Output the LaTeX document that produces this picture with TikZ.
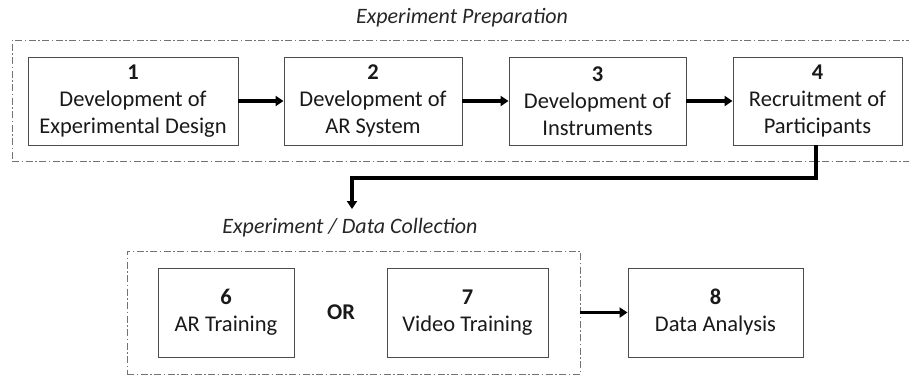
\documentclass[tikz,border=0pt]{standalone}
\usepackage{fontspec}
\setmainfont{Carlito}
\usetikzlibrary{arrows.meta}
\begin{document}
\begin{tikzpicture}[x=1pt,y=-1pt,
  stepbox/.style={draw=black!70, line width=0.9pt, fill=white, align=center, inner sep=0pt,
    font=\fontsize{22.5}{27}\selectfont, text=black!90},
  frame/.style={draw=black!55, line width=0.9pt, dash pattern=on 7pt off 2.5pt on 1.5pt off 2.5pt, inner sep=0pt},
  flow/.style={line width=3.2pt, -{Triangle[length=8pt,width=10pt]}},
  caption/.style={font=\fontsize{22}{25}\selectfont\itshape, text=black!85, inner sep=0pt}]
\useasboundingbox (0,0) rectangle (909,376);
% frames
\node[frame, minimum width=903pt, minimum height=121pt] (prep) at (463.5,100.5) {};
\node[frame, minimum width=453pt, minimum height=123pt] (coll) at (353.5,312.5) {};
% captions
\node[caption] (prepl) at (462,18) {Experiment Preparation};
\node[caption] (colll) at (350,228) {Experiment / Data Collection};
% boxes
\node[stepbox, minimum width=210pt, minimum height=88pt] (b1) at (133,101) {\textbf{1}\\Development of\\Experimental Design};
\node[stepbox, minimum width=178pt, minimum height=88pt] (b2) at (373,101) {\textbf{2}\\Development of\\AR System};
\node[stepbox, minimum width=177pt, minimum height=88pt] (b3) at (597.5,101) {\textbf{3}\\Development of\\Instruments};
\node[stepbox, minimum width=169pt, minimum height=88pt] (b4) at (817.5,101) {\textbf{4}\\Recruitment of\\Participants};
\node[stepbox, minimum width=136pt, minimum height=89pt] (b6) at (226,312.5) {\textbf{6}\\AR Training};
\node[stepbox, minimum width=161pt, minimum height=89pt] (b7) at (467.5,312.5) {\textbf{7}\\Video Training};
\node[stepbox, minimum width=175pt, minimum height=89pt] (b8) at (715.5,312.5) {\textbf{8}\\Data Analysis};
\node[font=\fontsize{22.5}{27}\selectfont\bfseries, text=black!90] (or) at (341,312) {OR};
% connectors
\draw[flow] (b1) -- (b2);
\draw[flow] (b2) -- (b3);
\draw[flow] (b3) -- (b4);
\coordinate (tip) at (352,209);
\draw[flow] (b4.south -| 816,0) -- (816,178) -- (352,178) -- (tip);
\draw[flow] (coll.east) -- (b8.west);
\end{tikzpicture}
\end{document}
